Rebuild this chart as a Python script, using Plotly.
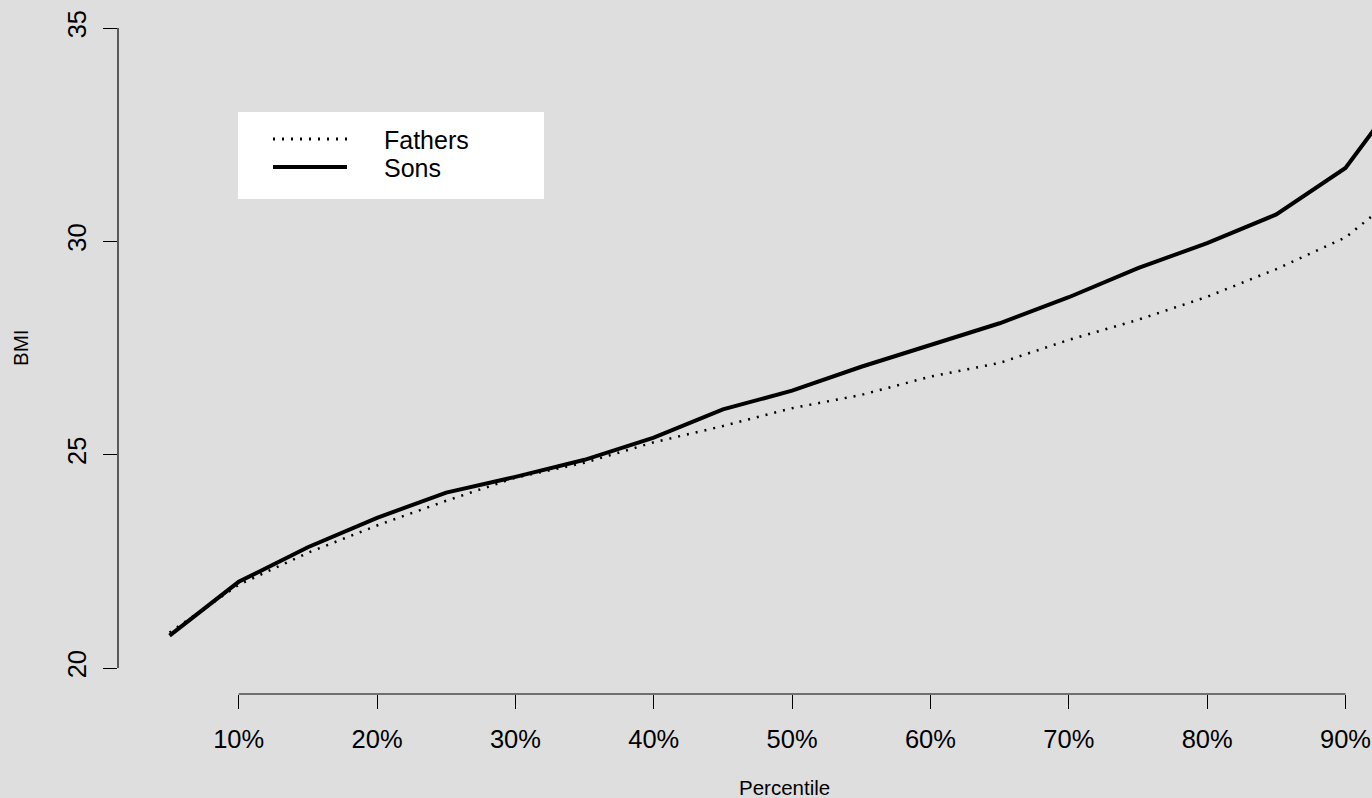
import plotly.graph_objects as go

# ---- data ----
percentiles = [5, 10, 15, 20, 25, 30, 35, 40, 45, 50, 55, 60, 65, 70, 75, 80, 85, 90, 95]
sons = [20.76, 22.02, 22.83, 23.52, 24.11, 24.48, 24.88, 25.40, 26.06, 26.50,
        27.06, 27.57, 28.08, 28.69, 29.37, 29.96, 30.63, 31.72, 33.90]
fathers = [20.83, 21.95, 22.70, 23.34, 23.92, 24.46, 24.81, 25.29, 25.67, 26.09,
           26.40, 26.83, 27.15, 27.69, 28.16, 28.70, 29.35, 30.09, 31.40]

x_ticks = [10, 20, 30, 40, 50, 60, 70, 80, 90]
x_ticktext = ["10%", "20%", "30%", "40%", "50%", "60%", "70%", "80%", "90%"]
y_ticks = [20, 25, 30, 35]
y_ticktext = ["20", "25", "30", "35"]

series_names = ["Fathers", "Sons"]

BG = "#DEDEDE"
FONT = "Liberation Sans, Arial, Helvetica, sans-serif"
DOT = "2px,7px"
DOT_W = 2.5

fig = go.Figure()
fig.add_trace(go.Scatter(x=percentiles, y=fathers, mode="lines", name=series_names[0],
                         line=dict(color="black", width=DOT_W, dash=DOT), showlegend=False))
fig.add_trace(go.Scatter(x=percentiles, y=sons, mode="lines", name=series_names[1],
                         line=dict(color="black", width=4), showlegend=False))

# plot area geometry
W, H = 1372, 798
ML, MR, MT, MB = 118, 0, 2, 104
PW, PH = W - ML - MR, H - MT - MB


def px(xp):
    return (xp - ML) / PW


def py(yp):
    return (H - MB - yp) / PH


shapes = [
    # R-style axis lines spanning only first..last tick
    dict(type="line", xref="x", yref="paper", x0=x_ticks[0], x1=x_ticks[-1], y0=0, y1=0,
         line=dict(color="black", width=1.2)),
    dict(type="line", xref="paper", yref="y", x0=0, x1=0, y0=y_ticks[0], y1=y_ticks[-1],
         line=dict(color="black", width=1.2)),
    # legend box
    dict(type="rect", xref="paper", yref="paper", x0=px(238), x1=px(544), y0=py(199), y1=py(112),
         fillcolor="white", line=dict(width=0), layer="above"),
    dict(type="line", xref="paper", yref="paper", x0=px(273), x1=px(347), y0=py(139), y1=py(139),
         line=dict(color="black", width=3, dash=DOT), layer="above"),
    dict(type="line", xref="paper", yref="paper", x0=px(273), x1=px(347), y0=py(167), y1=py(167),
         line=dict(color="black", width=4), layer="above"),
]

annotations = [
    dict(text=series_names[0], xref="paper", yref="paper", x=px(382), y=py(140),
         xanchor="left", yanchor="middle", showarrow=False,
         font=dict(family=FONT, size=25, color="black")),
    dict(text=series_names[1], xref="paper", yref="paper", x=px(382), y=py(168),
         xanchor="left", yanchor="middle", showarrow=False,
         font=dict(family=FONT, size=25, color="black")),
    dict(text="Percentile", xref="paper", yref="paper", x=px(784.5), y=py(787),
         xanchor="center", yanchor="middle", showarrow=False,
         font=dict(family=FONT, size=20.5, color="black")),
    dict(text="BMI", xref="paper", yref="paper", x=px(20), y=py(348), textangle=-90,
         xanchor="center", yanchor="middle", showarrow=False,
         font=dict(family=FONT, size=20.5, color="black")),
]

px_per_pct = (1345.5 - 238.7) / 80.0
x_lo = 10 - (238.7 - ML) / px_per_pct
x_hi = 90 + (W - 1345.5) / px_per_pct
px_per_unit = (668 - 28) / 15.0
y_lo = 20 - (H - MB - 668) / px_per_unit
y_hi = 35 + (28 - MT) / px_per_unit

fig.update_layout(
    width=W, height=H,
    margin=dict(l=ML, r=MR, t=MT, b=MB, pad=0),
    paper_bgcolor=BG, plot_bgcolor=BG,
    font=dict(family=FONT, color="black"),
    shapes=shapes, annotations=annotations,
    showlegend=False,
    xaxis=dict(range=[x_lo, x_hi], tickvals=x_ticks, ticktext=x_ticktext,
               ticks="outside", ticklen=14, tickwidth=1.2, tickcolor="black",
               showline=False, showgrid=False, zeroline=False,
               tickfont=dict(family=FONT, size=25.5, color="black"),
               ticklabelstandoff=8),
    yaxis=dict(range=[y_lo, y_hi], tickvals=y_ticks, ticktext=y_ticktext,
               ticks="outside", ticklen=14, tickwidth=1.2, tickcolor="black",
               showline=False, showgrid=False, zeroline=False, tickangle=-90,
               tickfont=dict(family=FONT, size=25.5, color="black"),
               ticklabelstandoff=7),
)

post = ("document.body.style.margin='0';document.body.style.padding='0';"
        "document.body.style.overflow='hidden';"
        "document.documentElement.style.overflow='hidden';")

fig.write_html("out.html", post_script=post, config={"displayModeBar": False})
